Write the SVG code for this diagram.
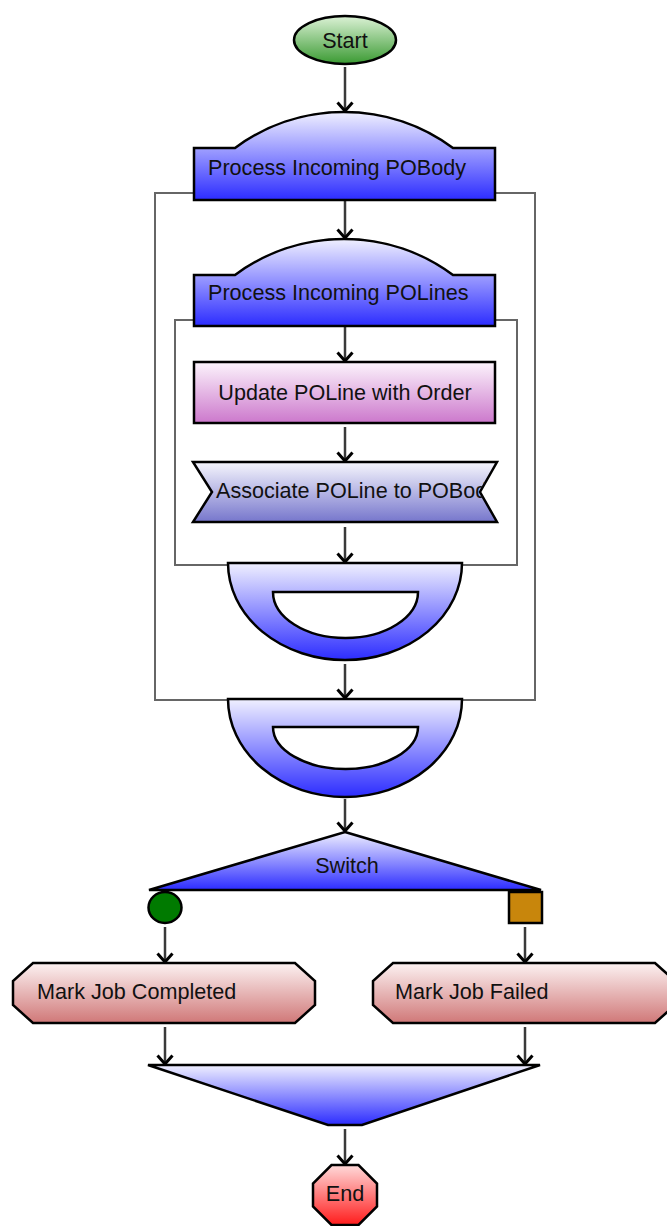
<svg xmlns="http://www.w3.org/2000/svg" width="667" height="1226" viewBox="0 0 667 1226">
<style>
.t{font-family:"Liberation Sans",Arial,sans-serif;font-size:21.6px;fill:#111}
.m{text-anchor:middle}
.c{stroke:#3a3a3a;stroke-width:2.5;fill:none;marker-end:url(#arr)}
.box{stroke:#666;stroke-width:2;fill:none}
.s{stroke:#000;stroke-width:2.5;stroke-linejoin:miter}
</style>
<defs>
<marker id="arr" viewBox="-11 -10 13 20" refX="0" refY="0" markerWidth="13" markerHeight="20" markerUnits="userSpaceOnUse" orient="auto">
<path d="M-8.5,-7.5 L0,0 L-8.5,7.5" fill="none" stroke="#000" stroke-width="3"/>
</marker>
<linearGradient id="gStart" x1="0" y1="0" x2="0" y2="1"><stop offset="0" stop-color="#dcf2d6"/><stop offset="1" stop-color="#3a9a32"/></linearGradient>
<linearGradient id="gBlue" x1="0" y1="0" x2="0" y2="1"><stop offset="0" stop-color="#f0f0ff"/><stop offset="1" stop-color="#2c2cff"/></linearGradient>
<linearGradient id="gPink" x1="0" y1="0" x2="0" y2="1"><stop offset="0" stop-color="#fcf4fc"/><stop offset="1" stop-color="#cc78cc"/></linearGradient>
<linearGradient id="gSlate" x1="0" y1="0" x2="0" y2="1"><stop offset="0" stop-color="#f6f6fd"/><stop offset="1" stop-color="#7676cc"/></linearGradient>
<linearGradient id="gRed" x1="0" y1="0" x2="0" y2="1"><stop offset="0" stop-color="#fcf2f2"/><stop offset="1" stop-color="#d07878"/></linearGradient>
<linearGradient id="gEnd" x1="0" y1="0" x2="0" y2="1"><stop offset="0" stop-color="#ffdada"/><stop offset="1" stop-color="#ff1c1c"/></linearGradient>
<clipPath id="clipAssoc"><path d="M193,462 H497 L480,492 L497,522 H193 L212,492 Z"/></clipPath>
</defs>

<g id="containers">
<rect id="loopPOBody" class="box" x="155" y="193" width="380" height="507"/>
<rect id="loopPOLines" class="box" x="175" y="320" width="342" height="245"/>
</g>

<g id="connectors">
<line class="c" x1="345" y1="67" x2="345" y2="111"/>
<line class="c" x1="345" y1="201" x2="345" y2="238"/>
<line class="c" x1="345" y1="327" x2="345" y2="361"/>
<line class="c" x1="345" y1="427" x2="345" y2="461"/>
<line class="c" x1="345" y1="527" x2="345" y2="562"/>
<line class="c" x1="345" y1="664" x2="345" y2="698"/>
<line class="c" x1="345" y1="799" x2="345" y2="831"/>
<line class="c" x1="165" y1="927" x2="165" y2="962"/>
<line class="c" x1="525" y1="927" x2="525" y2="962"/>
<line class="c" x1="165" y1="1027" x2="165" y2="1064"/>
<line class="c" x1="525" y1="1027" x2="525" y2="1064"/>
<line class="c" x1="345" y1="1129" x2="345" y2="1164"/>
</g>

<g id="start">
<ellipse class="s" cx="345" cy="40" rx="51" ry="24" fill="url(#gStart)"/>
<text class="t m" x="345" y="48">Start</text>
</g>

<g id="processPOBody">
<path class="s" d="M194,200 V148 H235 A183,183 0 0 1 453,148 H495 V200 Z" fill="url(#gBlue)"/>
<text class="t" x="208" y="175">Process Incoming POBody</text>
</g>

<g id="processPOLines">
<path class="s" d="M194,326 V275 H235 A183,183 0 0 1 453,275 H495 V326 Z" fill="url(#gBlue)"/>
<text class="t" x="208" y="300">Process Incoming POLines</text>
</g>

<g id="updatePOLine">
<rect class="s" x="194" y="362" width="301" height="61" fill="url(#gPink)"/>
<text class="t m" x="345" y="400">Update POLine with Order</text>
</g>

<g id="associatePOLine">
<path class="s" d="M193,462 H497 L480,492 L497,522 H193 L212,492 Z" fill="url(#gSlate)"/>
<text class="t" x="216" y="498" clip-path="url(#clipAssoc)">Associate POLine to POBody</text>
</g>

<g id="loopEndPOLines">
<path class="s" fill-rule="evenodd" d="M228,563 H462 A117,97 0 0 1 228,563 Z M273,592 H418 A72.5,46 0 0 1 273,592 Z" fill="url(#gBlue)"/>
</g>

<g id="loopEndPOBody">
<path class="s" fill-rule="evenodd" d="M228,699 H462 A117,98 0 0 1 228,699 Z M273,727 H418 A72.5,42 0 0 1 273,727 Z" fill="url(#gBlue)"/>
</g>

<g id="switch">
<polygon class="s" points="345,832 541,890 149,890" fill="url(#gBlue)"/>
<text class="t m" x="347" y="873">Switch</text>
</g>

<g id="caseCompleted">
<ellipse class="s" cx="165" cy="907.5" rx="16.5" ry="15.5" fill="#007a00" stroke-width="2"/>
</g>

<g id="caseFailed">
<rect class="s" x="509" y="892" width="33" height="31" fill="#c8860c" stroke-width="2"/>
</g>

<g id="markJobCompleted">
<polygon class="s" points="33,963 295,963 315,981 315,1005 295,1023 33,1023 13,1005 13,981" fill="url(#gRed)"/>
<text class="t" x="37" y="999">Mark Job Completed</text>
</g>

<g id="markJobFailed">
<polygon class="s" points="393,963 655,963 675,981 675,1005 655,1023 393,1023 373,1005 373,981" fill="url(#gRed)"/>
<text class="t" x="395" y="999">Mark Job Failed</text>
</g>

<g id="merge">
<polygon class="s" points="148,1065 540,1065 362,1125 328,1125" fill="url(#gBlue)"/>
</g>

<g id="end">
<polygon class="s" points="331.5,1165 358.5,1165 377,1183.5 377,1206.5 358.5,1225 331.5,1225 313,1206.5 313,1183.5" fill="url(#gEnd)"/>
<text class="t m" x="345" y="1201">End</text>
</g>
</svg>
